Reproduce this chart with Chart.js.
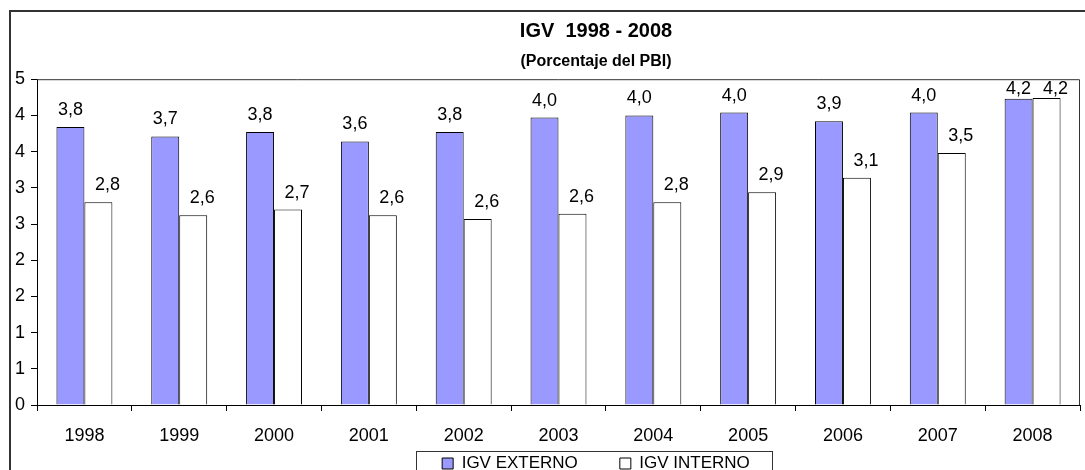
<!DOCTYPE html>
<html>
<head>
    <title>IGV 1998 - 2008</title>
    <style>
        html, body { margin: 0; padding: 0; overflow: hidden; background: #fff; }
        #chartBox { position: absolute; left: 0; top: 0; width: 1192px; height: 482px; }
    </style>
    <script src="https://cdn.jsdelivr.net/npm/chart.js"></script>
</head>
<body>

    <div id="chartBox">
        <canvas id="igvChart"></canvas>
    </div>

    <script>
        const categories = ['1998', '1999', '2000', '2001', '2002', '2003', '2004', '2005', '2006', '2007', '2008'];
        const igvExterno = [3.84, 3.71, 3.77, 3.64, 3.77, 3.97, 4.00, 4.04, 3.92, 4.04, 4.23];
        const igvInterno = [2.80, 2.62, 2.70, 2.62, 2.57, 2.64, 2.80, 2.94, 3.14, 3.48, 4.24];
        const yTickLabels = ['0', '1', '1', '2', '2', '3', '3', '4', '4', '5'];

        const FONT = "'Liberation Sans', Arial, sans-serif";
        Chart.defaults.font.family = FONT;
        Chart.defaults.color = '#000';

        // x shift of the value labels for each series (interno labels sit a bit right)
        const labelShift = [0, 9];

        const frame = {
            id: 'frame',
            afterLayout(chart) {
                // x axis is squeezed so the legend sits close; give its labels room again
                const x = chart.scales.x;
                x.bottom = x.top + 46;
                x.height = 46;
            },
            beforeDraw(chart) {
                const ctx = chart.ctx;
                ctx.save();
                ctx.fillStyle = '#fff';
                ctx.fillRect(0, 0, chart.width, chart.height);
                ctx.strokeStyle = '#333';
                ctx.lineWidth = 2;
                ctx.strokeRect(10, 11, chart.width - 20, chart.height + 20);
                ctx.restore();
            },
            afterDraw(chart) {
                const ctx = chart.ctx;
                const a = chart.chartArea;
                ctx.save();
                ctx.strokeStyle = '#333';
                ctx.lineWidth = 1;
                ctx.beginPath();
                ctx.moveTo(a.left, a.top + 0.5);
                ctx.lineTo(a.right - 0.5, a.top + 0.5);
                ctx.lineTo(a.right - 0.5, a.bottom);
                ctx.stroke();
                // box round the legend
                const hb = chart.legend.legendHitBoxes;
                if (hb && hb.length) {
                    const last = hb[hb.length - 1];
                    const x0 = hb[0].left - 26;
                    const x1 = last.left + last.width + 22;
                    const y0 = hb[0].top - 4;
                    ctx.strokeRect(Math.round(x0) + 0.5, Math.round(y0) + 0.5, Math.round(x1 - x0), 60);
                }
                ctx.restore();
            }
        };

        const valueLabels = {
            id: 'valueLabels',
            afterDatasetsDraw(chart) {
                const ctx = chart.ctx;
                ctx.save();
                ctx.font = '18px ' + FONT;
                ctx.fillStyle = '#000';
                ctx.textAlign = 'center';
                ctx.textBaseline = 'alphabetic';
                chart.data.datasets.forEach((ds, di) => {
                    chart.getDatasetMeta(di).data.forEach((bar, i) => {
                        const txt = ds.data[i].toFixed(1).replace('.', ',');
                        const y = Math.max(bar.y - 12, chart.chartArea.top + 15);
                        ctx.fillText(txt, bar.x + labelShift[di], y);
                    });
                });
                ctx.restore();
            }
        };

        new Chart(document.getElementById('igvChart'), {
            type: 'bar',
            data: {
                labels: categories,
                datasets: [{
                    label: 'IGV EXTERNO',
                    data: igvExterno,
                    backgroundColor: '#9999ff',
                    borderColor: '#000',
                    borderWidth: 1,
                    categoryPercentage: 0.59,
                    barPercentage: 1
                }, {
                    label: 'IGV INTERNO',
                    data: igvInterno,
                    backgroundColor: '#fff',
                    borderColor: '#000',
                    borderWidth: 1,
                    categoryPercentage: 0.59,
                    barPercentage: 1
                }]
            },
            options: {
                responsive: true,
                maintainAspectRatio: false,
                animation: false,
                layout: { padding: 0 },
                plugins: {
                    title: {
                        display: true,
                        text: 'IGV  1998 - 2008',
                        font: { size: 20, weight: 'bold' },
                        color: '#000',
                        padding: { top: 19, bottom: 0 }
                    },
                    subtitle: {
                        display: true,
                        text: '(Porcentaje del PBI)',
                        font: { size: 16, weight: 'bold' },
                        color: '#000',
                        padding: { top: 9, bottom: 8 }
                    },
                    legend: {
                        position: 'bottom',
                        labels: {
                            boxWidth: 11,
                            boxHeight: 11,
                            padding: 42,
                            font: { size: 17 },
                            color: '#000'
                        }
                    },
                    tooltip: { enabled: false }
                },
                scales: {
                    x: {
                        grid: { drawOnChartArea: false, tickLength: 6, color: '#000', offset: true },
                        border: { color: '#000' },
                        ticks: { font: { size: 18 }, color: '#000', padding: 14 },
                        afterFit: s => { s.height = 8; }
                    },
                    y: {
                        min: 0,
                        max: 4.5,
                        ticks: {
                            stepSize: 0.5,
                            font: { size: 18 },
                            color: '#000',
                            padding: 6,
                            callback: (v, i) => yTickLabels[i]
                        },
                        grid: { drawOnChartArea: false, tickLength: 6, color: '#000' },
                        border: { color: '#000' },
                        afterFit: s => { s.width = 37; }
                    },
                    spacer: {
                        type: 'linear',
                        position: 'right',
                        grid: { display: false },
                        border: { display: false },
                        ticks: { display: false },
                        afterFit: s => { s.width = 112; }
                    }
                }
            },
            plugins: [frame, valueLabels]
        });
    </script>

</body>
</html>
